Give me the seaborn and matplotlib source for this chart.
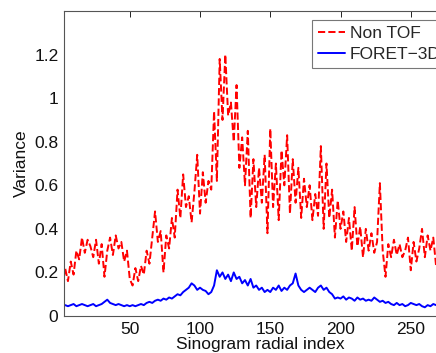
import matplotlib
matplotlib.use("Agg")
import matplotlib.pyplot as plt
import seaborn as sns
import pandas as pd

# Sinogram radial index (every second bin)
radial_index = list(range(2, 283, 2))

# Variance without TOF information
variance_non_tof = [
    0.13, 0.22, 0.16, 0.25, 0.19, 0.30, 0.26, 0.36, 0.29, 0.35,
    0.32, 0.27, 0.35, 0.24, 0.33, 0.18, 0.30, 0.36, 0.28, 0.37,
    0.31, 0.34, 0.25, 0.30, 0.17, 0.14, 0.22, 0.16, 0.23, 0.19,
    0.30, 0.24, 0.36, 0.48, 0.34, 0.39, 0.20, 0.37, 0.31, 0.45,
    0.36, 0.58, 0.45, 0.65, 0.50, 0.55, 0.43, 0.57, 0.74, 0.47,
    0.66, 0.52, 0.62, 0.58, 0.94, 0.62, 1.18, 0.90, 1.20, 0.92,
    0.98, 0.80, 1.06, 0.68, 0.82, 0.60, 0.85, 0.45, 0.72, 0.50,
    0.68, 0.52, 0.74, 0.38, 0.86, 0.50, 0.70, 0.44, 0.76, 0.60,
    0.83, 0.47, 0.72, 0.52, 0.68, 0.45, 0.63, 0.50, 0.60, 0.44,
    0.56, 0.46, 0.78, 0.40, 0.70, 0.45, 0.58, 0.36, 0.53, 0.40,
    0.48, 0.34, 0.45, 0.30, 0.50, 0.32, 0.41, 0.27, 0.40, 0.30,
    0.38, 0.29, 0.34, 0.61, 0.30, 0.18, 0.33, 0.27, 0.35, 0.28,
    0.33, 0.27, 0.30, 0.36, 0.21, 0.34, 0.25, 0.31, 0.40, 0.27,
    0.37, 0.30, 0.36, 0.23, 0.31, 0.22, 0.32, 0.27, 0.34, 0.26,
    0.30,
]

# Variance with FORET-3D rebinning
variance_foret = [
    0.045, 0.050, 0.045, 0.050, 0.055, 0.045, 0.050, 0.055, 0.050, 0.045,
    0.050, 0.055, 0.045, 0.050, 0.055, 0.065, 0.075, 0.060, 0.055, 0.050,
    0.055, 0.050, 0.045, 0.050, 0.045, 0.050, 0.045, 0.050, 0.055, 0.050,
    0.060, 0.065, 0.060, 0.070, 0.075, 0.070, 0.080, 0.075, 0.085, 0.080,
    0.090, 0.100, 0.095, 0.110, 0.120, 0.130, 0.150, 0.140, 0.120, 0.130,
    0.120, 0.115, 0.100, 0.110, 0.140, 0.210, 0.180, 0.200, 0.170, 0.190,
    0.160, 0.200, 0.170, 0.180, 0.150, 0.165, 0.140, 0.170, 0.130, 0.140,
    0.120, 0.130, 0.110, 0.120, 0.110, 0.130, 0.120, 0.140, 0.115, 0.130,
    0.120, 0.140, 0.150, 0.195, 0.140, 0.120, 0.110, 0.120, 0.130, 0.120,
    0.110, 0.130, 0.140, 0.120, 0.130, 0.110, 0.100, 0.080, 0.085, 0.080,
    0.090, 0.075, 0.085, 0.080, 0.070, 0.085, 0.075, 0.080, 0.070, 0.075,
    0.070, 0.085, 0.075, 0.065, 0.070, 0.060, 0.065, 0.055, 0.050, 0.060,
    0.050, 0.055, 0.045, 0.050, 0.060, 0.055, 0.050, 0.055, 0.045, 0.040,
    0.050, 0.045, 0.055, 0.050, 0.045, 0.055, 0.050, 0.045, 0.050, 0.055,
    0.050,
]

y_ticks = [0, 0.2, 0.4, 0.6, 0.8, 1.0, 1.2]
y_tick_labels = ["0", "0.2", "0.4", "0.6", "0.8", "1", "1.2"]
x_ticks = [50, 100, 150, 200, 250]

df = pd.DataFrame({
    "index": radial_index,
    "non_tof": variance_non_tof,
    "foret": variance_foret,
})

sns.set_style("white")
plt.rcParams["font.family"] = ["Liberation Sans", "DejaVu Sans"]

fig = plt.figure(figsize=(4.36, 3.53), dpi=100)
# the axes run past the right edge of the figure, so the frame and legend are clipped there
ax = fig.add_axes([0.1468, 0.1048, 0.8985, 0.864])

sns.lineplot(data=df, x="index", y="non_tof", ax=ax, color="#ff0000",
             linestyle="--", linewidth=1.4, label="Non TOF")
sns.lineplot(data=df, x="index", y="foret", ax=ax, color="#0000ff",
             linestyle="-", linewidth=1.4, label="FORET\u22123D")

ax.set_xlim(3.2, 282)
ax.set_ylim(0, 1.4)
ax.set_yticks(y_ticks)
ax.set_yticklabels(y_tick_labels)
ax.set_xticks(x_ticks)
ax.tick_params(axis="both", direction="in", length=4, width=0.7,
               labelsize=12.5, colors="#222222", top=True, right=True,
               pad=4)
ax.tick_params(axis="both", labelcolor="#111111")
for spine in ax.spines.values():
    spine.set_color("#555555")
    spine.set_linewidth(0.8)

ax.set_xlabel("Sinogram radial index", fontsize=12.5, labelpad=0, color="#111111")
ax.set_ylabel("Variance", fontsize=12.5, labelpad=4, color="#111111")

leg = ax.legend(loc="upper right", fontsize=12.5, frameon=True, fancybox=False,
                handlelength=1.55, handletextpad=0.3, borderpad=0.35,
                labelspacing=0.35, borderaxespad=0.5)
leg.get_frame().set_edgecolor("#555555")
leg.get_frame().set_linewidth(0.8)

fig.savefig("out.png", dpi=100)
